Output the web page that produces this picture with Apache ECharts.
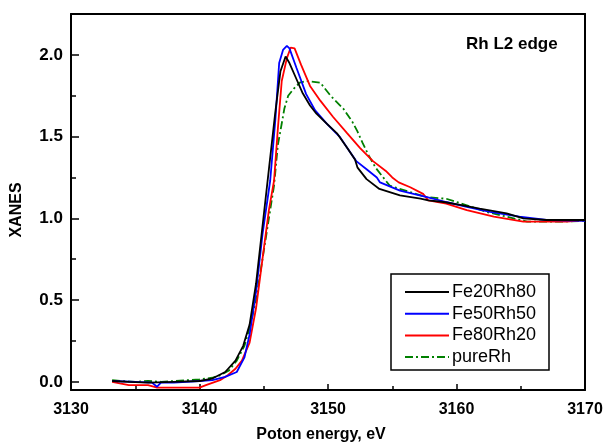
<!DOCTYPE html>
<html><head><meta charset="utf-8">
<script src="https://cdn.jsdelivr.net/npm/echarts@6/dist/echarts.min.js"></script>
<style>html,body{margin:0;padding:0;background:#fff}#c{width:607px;height:448px}</style>
</head><body><div id="c"></div>
<script>
// ---- data ----
const seriesNames = ["Fe20Rh80", "Fe50Rh50", "Fe80Rh20", "pureRh"];
const xTickValues = [3130, 3140, 3150, 3160, 3170];
const yTickValues = [0, 0.5, 1.0, 1.5, 2.0];

const fe20E = [3133.2,3134.5,3136,3138,3140,3141,3142,3142.8,3143.4,3143.9,3144.4,3144.9,3145.4,3145.9,3146.3,3146.7,3147.0,3147.5,3148.0,3148.6,3149.1,3149.9,3150.7,3151.5,3152.1,3152.3,3153.0,3154.0,3155.6,3157.2,3157.8,3159,3160.5,3161.8,3163.9,3165.2,3167,3170];
const fe20V = [0.005,0.0,-0.005,0.0,0.005,0.02,0.06,0.13,0.22,0.35,0.6,0.95,1.3,1.65,1.9,1.99,1.95,1.86,1.77,1.69,1.64,1.58,1.52,1.43,1.36,1.31,1.24,1.18,1.14,1.12,1.11,1.10,1.08,1.06,1.03,1.00,0.99,0.99];

const fe50E = [3133.2,3135,3136.3,3136.7,3137.0,3138,3140,3141,3142,3142.9,3143.5,3143.9,3144.4,3144.9,3145.5,3145.9,3146.2,3146.5,3146.8,3147.0,3147.55,3148.3,3149.0,3149.9,3150.9,3151.5,3152.2,3153.0,3153.8,3154.05,3155.6,3157.7,3159.2,3160.8,3162.6,3164.9,3167,3170];
const fe50V = [0.005,0.0,-0.005,-0.03,-0.005,-0.005,0.005,0.01,0.03,0.06,0.15,0.29,0.55,0.9,1.23,1.6,1.95,2.03,2.055,2.04,1.92,1.76,1.66,1.58,1.50,1.43,1.35,1.30,1.25,1.22,1.17,1.13,1.10,1.07,1.04,1.01,0.99,0.985];

const fe80E = [3133.2,3133.8,3134.5,3136,3136.7,3138,3140,3140.5,3141.6,3142.2,3142.8,3143.3,3143.9,3144.4,3144.9,3145.4,3145.8,3146.1,3146.4,3146.8,3147.1,3147.4,3147.9,3148.6,3149.4,3150.4,3151.5,3152.5,3153.5,3154.5,3155.0,3155.5,3156.4,3157.4,3157.8,3159.2,3160.8,3162.9,3165.2,3168.6,3170];
const fe80V = [0.0,-0.01,-0.02,-0.02,-0.035,-0.035,-0.035,-0.02,0.01,0.04,0.08,0.13,0.24,0.45,0.75,1.05,1.23,1.55,1.84,1.98,2.045,2.04,1.94,1.81,1.72,1.62,1.52,1.43,1.35,1.29,1.25,1.22,1.19,1.15,1.11,1.09,1.05,1.01,0.98,0.98,0.99];

const pureE = [3133.2,3134,3135,3136,3137,3138,3139,3140,3141,3141.6,3142.3,3142.9,3143.5,3143.9,3144.4,3144.9,3145.4,3145.8,3146.1,3146.4,3146.6,3146.9,3147.3,3147.8,3148.3,3149.4,3150.2,3151.2,3151.9,3152.3,3152.7,3153.2,3153.7,3154.2,3154.8,3156.4,3157.7,3159.2,3160.8,3162.3,3163.9,3165.5,3168,3170];
const pureV = [0.01,0.005,0.0,0.005,0.0,0.005,0.01,0.015,0.025,0.04,0.07,0.13,0.22,0.33,0.5,0.75,1.0,1.2,1.45,1.58,1.67,1.75,1.79,1.83,1.84,1.83,1.75,1.67,1.59,1.53,1.46,1.38,1.31,1.26,1.20,1.16,1.13,1.12,1.08,1.04,1.01,0.98,0.98,0.985];

const colors = ["#000000", "#0000ff", "#ff0000", "#008000"];
function pairs(e, v) { return e.map((x, i) => [x, v[i]]); }
const dataSets = [pairs(fe20E, fe20V), pairs(fe50E, fe50V), pairs(fe80E, fe80V), pairs(pureE, pureV)];

const FONT = "'Liberation Sans', Arial, sans-serif";
const chart = echarts.init(document.getElementById('c'), null, {renderer: 'canvas'});
const G = {left: 71, right: 22, top: 14, bottom: 58};
const yMin = -0.05, yMax = 2.25;

chart.setOption({
  animation: false,
  backgroundColor: '#fff',
  title: {text: 'Rh L2 edge', left: 466, top: 36, padding: 0,
    textStyle: {fontFamily: FONT, fontWeight: 'bold', fontSize: 17, color: '#000'}},
  grid: {left: G.left, right: G.right, top: G.top, bottom: G.bottom, show: false},
  legend: {
    orient: 'vertical', left: 404, top: 283, padding: 0,
    itemWidth: 44, itemHeight: 18, itemGap: 3.7,
    data: seriesNames,
    itemStyle: {opacity: 0},
    textStyle: {fontFamily: FONT, fontSize: 18, color: '#000', padding: [0,0,0,-2]}
  },
  graphic: [{type: 'rect', shape: {x: 391, y: 274, width: 158, height: 96},
    style: {fill: 'none', stroke: '#000', lineWidth: 1.5}, z: 100}],
  xAxis: [{
    type: 'value', min: 3130, max: 3170, interval: 10,
    name: 'Poton energy, eV', nameLocation: 'middle', nameGap: 37,
    nameTextStyle: {fontFamily: FONT, fontWeight: 'bold', fontSize: 16, color: '#000', padding: [0, 14, 0, 0]},
    axisLine: {show: true, onZero: false, lineStyle: {color: '#000', width: 2}},
    axisTick: {show: true, inside: true, length: 6, lineStyle: {color: '#000', width: 1.5}},
    minorTick: {show: true, splitNumber: 2, length: 4, lineStyle: {color: '#000', width: 1.5}},
    axisLabel: {margin: 12, fontFamily: FONT, fontWeight: 'bold', fontSize: 16, color: '#000',
      showMinLabel: true, showMaxLabel: true, customValues: xTickValues, formatter: v => String(v)},
    splitLine: {show: false}
  }, {
    type: 'value', position: 'top', min: 3130, max: 3170,
    axisLine: {show: true, onZero: false, lineStyle: {color: '#000', width: 2}},
    axisTick: {show: false}, axisLabel: {show: false}, splitLine: {show: false}
  }],
  yAxis: [{
    type: 'value', min: yMin, max: yMax,
    name: 'XANES', nameLocation: 'middle', nameGap: 46, nameRotate: 90,
    nameTextStyle: {fontFamily: FONT, fontWeight: 'bold', fontSize: 16, color: '#000', padding: [0, 16, 0, 0]},
    axisLine: {show: true, onZero: false, lineStyle: {color: '#000', width: 2}},
    axisTick: {show: true, inside: true, length: 8, customValues: yTickValues, lineStyle: {color: '#000', width: 1.5}},
    axisLabel: {margin: 8, fontFamily: FONT, fontWeight: 'bold', fontSize: 17, color: '#000',
      customValues: yTickValues, formatter: v => v.toFixed(1)},
    splitLine: {show: false}
  }, {
    type: 'value', min: yMin, max: yMax, position: 'left',
    axisLine: {show: false},
    axisTick: {show: true, inside: true, length: 5, customValues: [0.25, 0.75, 1.25, 1.75], lineStyle: {color: '#000', width: 1.5}},
    axisLabel: {show: false, customValues: [0.25, 0.75, 1.25, 1.75]}, splitLine: {show: false}
  }, {
    type: 'value', min: yMin, max: yMax, position: 'right',
    axisLine: {show: true, onZero: false, lineStyle: {color: '#000', width: 2}},
    axisTick: {show: false}, axisLabel: {show: false}, splitLine: {show: false}
  }],
  series: seriesNames.map((n, i) => ({
    name: n, type: 'line', data: dataSets[i], symbol: 'none', showSymbol: false,
    xAxisIndex: 0, yAxisIndex: 0, clip: true,
    lineStyle: {color: colors[i], width: 1.8, type: i === 3 ? [8, 3, 2, 3] : 'solid'},
    itemStyle: {color: colors[i]},
    z: 10 - i
  }))
});
</script></body></html>
